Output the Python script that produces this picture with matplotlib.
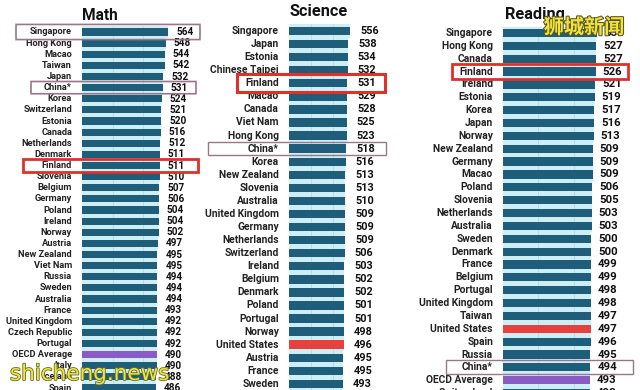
import matplotlib.pyplot as plt
import matplotlib.patheffects as pe
from matplotlib.patches import FancyBboxPatch

# PISA scores, read top to bottom
math_names = ['Singapore', 'Hong Kong', 'Macao', 'Taiwan', 'Japan', 'China*', 'Korea',
              'Switzerland', 'Estonia', 'Canada', 'Netherlands', 'Denmark', 'Finland',
              'Slovenia', 'Belgium', 'Germany', 'Poland', 'Ireland', 'Norway', 'Austria',
              'New Zealand', 'Viet Nam', 'Russia', 'Sweden', 'Australia', 'France',
              'United Kingdom', 'Czech Republic', 'Portugal', 'OECD Average', 'Italy',
              'Iceland', 'Spain']
math_scores = [564, 548, 544, 542, 532, 531, 524, 521, 520, 516, 512, 511, 511, 510, 507,
               506, 504, 504, 502, 497, 495, 495, 494, 494, 494, 493, 492, 492, 492, 490,
               490, 488, 486]

science_names = ['Singapore', 'Japan', 'Estonia', 'Chinese Taipei', 'Finland', 'Macao',
                 'Canada', 'Viet Nam', 'Hong Kong', 'China*', 'Korea', 'New Zealand',
                 'Slovenia', 'Australia', 'United Kingdom', 'Germany', 'Netherlands',
                 'Switzerland', 'Ireland', 'Belgium', 'Denmark', 'Poland', 'Portugal',
                 'Norway', 'United States', 'Austria', 'France', 'Sweden']
science_scores = [556, 538, 534, 532, 531, 529, 528, 525, 523, 518, 516, 513, 513, 510,
                  509, 509, 509, 506, 503, 502, 502, 501, 501, 498, 496, 495, 495, 493]

reading_names = ['Singapore', 'Hong Kong', 'Canada', 'Finland', 'Ireland', 'Estonia',
                 'Korea', 'Japan', 'Norway', 'New Zealand', 'Germany', 'Macao', 'Poland',
                 'Slovenia', 'Netherlands', 'Australia', 'Sweden', 'Denmark', 'France',
                 'Belgium', 'Portugal', 'United Kingdom', 'Taiwan', 'United States', 'Spain',
                 'Russia', 'China*', 'OECD Average', 'Switzerland']
reading_scores = [535, 527, 527, 526, 521, 519, 517, 516, 513, 509, 509, 509, 506, 505,
                  503, 503, 500, 500, 499, 499, 498, 498, 497, 497, 496, 495, 494, 493, 492]

TEAL = '#1f5e7b'
CYAN = '#cdeef5'
RED = '#e8403c'
PURPLE = '#8a5bc7'
MAUVE = '#9a7688'
BOX_RED = '#e0302a'

W, H = 640, 390
plt.rcParams['font.family'] = ['Roboto', 'DejaVu Sans']

fig = plt.figure(figsize=(6.4, 3.9), dpi=100)
fig.patch.set_facecolor('white')

# panel layout: bar start px, px per point, first row px, row step px, font sizes
panels = [
    dict(title='Math', names=math_names, scores=math_scores, left=82, ppu=0.1525,
         row0=32, step=11.125, lab=6.7, val=7.2, vgap=8, tx=100, ty=15, tsize=11.2),
    dict(title='Science', names=science_names, scores=science_scores, left=289, ppu=0.11,
         row0=31, step=13.07, lab=7.4, val=7.8, vgap=10, tx=319, ty=12, tsize=11.8),
    dict(title='Reading', names=reading_names, scores=reading_scores, left=503, ppu=0.1765,
         row0=33, step=12.86, lab=7.4, val=8.2, vgap=7, tx=535, ty=14, tsize=11.8),
]

axes = []
for p in panels:
    xmax = 600
    ax = fig.add_axes([p['left'] / W, 0, p['ppu'] * xmax / W, 1])
    ax.set_xlim(0, xmax)
    ax.set_ylim((H - p['row0']) / p['step'], -p['row0'] / p['step'])
    ax.axis('off')
    n = len(p['names'])
    rows = list(range(n))
    colors = []
    for name in p['names']:
        if name == 'United States':
            colors.append(RED)
        elif name == 'OECD Average':
            colors.append(PURPLE)
        else:
            colors.append(TEAL)
    ax.barh(rows, p['scores'], height=1.0, color=CYAN, zorder=1)
    ax.vlines([200, 400], -0.5, n - 0.5, color='#c4d6da', lw=0.6, zorder=2)
    ax.barh(rows, p['scores'], height=0.64, color=colors, zorder=3)
    for i, (name, s) in enumerate(zip(p['names'], p['scores'])):
        ax.annotate(name, xy=(0, i), xytext=(-10, 0), textcoords='offset pixels',
                    ha='right', va='center', fontsize=p['lab'], color='#222222',
                    fontweight='semibold', annotation_clip=False)
        ax.annotate(str(s), xy=(s, i), xytext=(p['vgap'], 0), textcoords='offset pixels',
                    ha='left', va='center', fontsize=p['val'], color='#111111',
                    fontweight='bold', annotation_clip=False)
    fig.text(p['tx'] / W, 1 - p['ty'] / H, p['title'], ha='center', va='center',
             fontsize=p['tsize'], fontweight='bold', color='#111111')
    axes.append(ax)

# highlight boxes: panel, row, left px, right px, half height (rows), colour, width, rounded
boxes = [
    (0, 0, 16, 200, 0.68, MAUVE, 1.2, True),
    (0, 5, 31, 196, 0.55, MAUVE, 1.2, True),
    (0, 12, 23, 198, 0.55, BOX_RED, 2.0, False),
    (1, 4, 237, 385, 0.7, BOX_RED, 2.2, False),
    (1, 9, 208, 386, 0.47, MAUVE, 1.0, False),
    (2, 3, 452, 628, 0.6, BOX_RED, 2.0, False),
    (2, 26, 446, 633, 0.55, MAUVE, 1.0, False),
]
for k, row, x0, x1, hh, col, lw, rnd in boxes:
    p = panels[k]
    ax = axes[k]
    d0 = (x0 - p['left']) / p['ppu']
    d1 = (x1 - p['left']) / p['ppu']
    style = 'square,pad=0'
    if rnd:
        style = 'round,pad=0,rounding_size=%.1f' % (hh * 0.9)
    box = FancyBboxPatch((d0, row - hh), d1 - d0, 2 * hh, boxstyle=style,
                         fill=False, edgecolor=col, lw=lw, zorder=5, clip_on=False,
                         mutation_aspect=1)
    ax.add_patch(box)

# watermarks
fig.text(10 / W, 1 - 374 / H, 'shicheng.news', ha='left', va='center', fontsize=15.5,
         color='#ece63c', family=['DejaVu Sans'],
         path_effects=[pe.withStroke(linewidth=1.2, foreground='#6b6a2a')])
fig.text(584 / W, 1 - 27 / H, '狮城新闻', ha='center', va='center', fontsize=14.5,
         color='#f0e33a', family=['Noto Sans CJK SC', 'DejaVu Sans'], fontweight='bold',
         path_effects=[pe.withStroke(linewidth=1.5, foreground='#5a5520')])

fig.savefig('out.png', dpi=100)
